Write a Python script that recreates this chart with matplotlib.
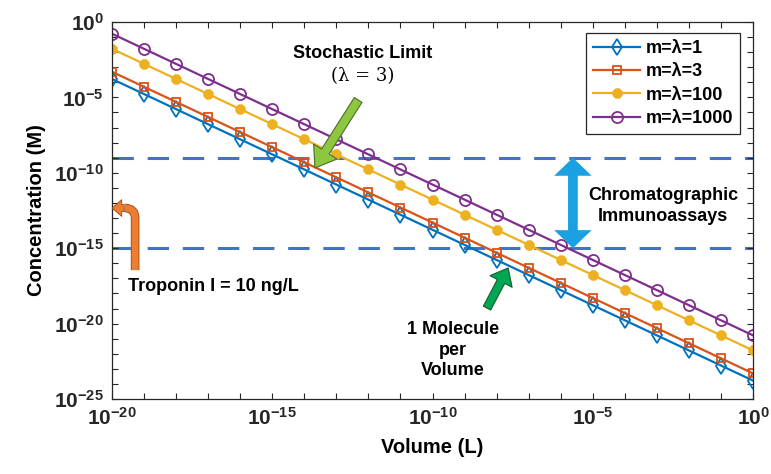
import numpy as np
import matplotlib
matplotlib.use("Agg")
import matplotlib.pyplot as plt
from matplotlib.path import Path
from matplotlib.patches import FancyArrowPatch
import matplotlib.patheffects as pe

plt.rcParams['font.family'] = ['Liberation Sans', 'DejaVu Sans']
plt.rcParams['font.weight'] = 'bold'
plt.rcParams['mathtext.fontset'] = 'custom'
plt.rcParams['mathtext.rm'] = 'Liberation Sans:bold'
plt.rcParams['mathtext.bf'] = 'Liberation Sans:bold'
plt.rcParams['mathtext.it'] = 'Liberation Sans:bold:italic'

# volume (L), one point per decade
volume = [1e-20, 1e-19, 1e-18, 1e-17, 1e-16, 1e-15, 1e-14, 1e-13, 1e-12, 1e-11,
          1e-10, 1e-9, 1e-8, 1e-7, 1e-6, 1e-5, 1e-4, 1e-3, 1e-2, 1e-1, 1e0]

# concentration (M)
conc_m1 = [1.66e-4, 1.66e-5, 1.66e-6, 1.66e-7, 1.66e-8, 1.66e-9, 1.66e-10,
           1.66e-11, 1.66e-12, 1.66e-13, 1.66e-14, 1.66e-15, 1.66e-16, 1.66e-17,
           1.66e-18, 1.66e-19, 1.66e-20, 1.66e-21, 1.66e-22, 1.66e-23, 1.66e-24]
conc_m3 = [4.98e-4, 4.98e-5, 4.98e-6, 4.98e-7, 4.98e-8, 4.98e-9, 4.98e-10,
           4.98e-11, 4.98e-12, 4.98e-13, 4.98e-14, 4.98e-15, 4.98e-16, 4.98e-17,
           4.98e-18, 4.98e-19, 4.98e-20, 4.98e-21, 4.98e-22, 4.98e-23, 4.98e-24]
conc_m100 = [1.66e-2, 1.66e-3, 1.66e-4, 1.66e-5, 1.66e-6, 1.66e-7, 1.66e-8,
             1.66e-9, 1.66e-10, 1.66e-11, 1.66e-12, 1.66e-13, 1.66e-14, 1.66e-15,
             1.66e-16, 1.66e-17, 1.66e-18, 1.66e-19, 1.66e-20, 1.66e-21, 1.66e-22]
conc_m1000 = [1.66e-1, 1.66e-2, 1.66e-3, 1.66e-4, 1.66e-5, 1.66e-6, 1.66e-7,
              1.66e-8, 1.66e-9, 1.66e-10, 1.66e-11, 1.66e-12, 1.66e-13, 1.66e-14,
              1.66e-15, 1.66e-16, 1.66e-17, 1.66e-18, 1.66e-19, 1.66e-20, 1.66e-21]

labels = ['m=λ=1', 'm=λ=3', 'm=λ=100', 'm=λ=1000']
limits = [1e-9, 1e-15]  # dashed detection limits
troponin = 4.6e-13

x_ticks = [1e-20, 1e-15, 1e-10, 1e-5, 1e0]
x_ticklabels = [r'$\mathbf{10^{-20}}$', r'$\mathbf{10^{-15}}$', r'$\mathbf{10^{-10}}$',
                r'$\mathbf{10^{-5}}$', r'$\mathbf{10^{0}}$']
y_ticks = [1e-25, 1e-20, 1e-15, 1e-10, 1e-5, 1e0]
y_ticklabels = [r'$\mathbf{10^{-25}}$', r'$\mathbf{10^{-20}}$', r'$\mathbf{10^{-15}}$',
                r'$\mathbf{10^{-10}}$', r'$\mathbf{10^{-5}}$', r'$\mathbf{10^{0}}$']

fig = plt.figure(figsize=(7.71, 4.74), dpi=100)
ax = fig.add_axes([0.1453, 0.1582, 0.8314, 0.7954])

ax.plot(volume, conc_m1, color='#0072BD', lw=1.6, marker='d', ms=8, mfc='none',
        mew=1.3, label=labels[0])
ax.plot(volume, conc_m3, color='#D95319', lw=1.6, marker='s', ms=6, mfc='none',
        mew=1.3, label=labels[1])
ax.plot(volume, conc_m100, color='#EDB120', lw=1.6, marker=(8, 2, 0), ms=7,
        mew=2.8, label=labels[2])
ax.plot(volume, conc_m1000, color='#7E2F8E', lw=1.6, marker='o', ms=8, mfc='none',
        mew=1.3, label=labels[3])

for lim in limits:
    ax.axhline(lim, color='#4472C4', lw=2.2, dashes=(7, 4.5), zorder=1)

ax.set_xscale('log')
ax.set_yscale('log')
ax.set_xlim(1e-20, 1e0)
ax.set_ylim(1e-25, 1e0)
ax.set_xticks(x_ticks)
ax.set_xticklabels(x_ticklabels)
ax.set_yticks(y_ticks)
ax.set_yticklabels(y_ticklabels)
ax.set_xticks(10.0 ** np.arange(-20, 1), minor=True)
ax.set_yticks(10.0 ** np.arange(-25, 1), minor=True)
ax.tick_params(which='both', direction='in', top=True, right=True,
               length=4, width=0.8, color='#262626', labelcolor='#262626',
               labelsize=15, pad=6)
ax.xaxis.set_minor_formatter(plt.NullFormatter())
ax.yaxis.set_minor_formatter(plt.NullFormatter())
for s in ax.spines.values():
    s.set_color('#262626')
    s.set_linewidth(0.9)

ax.set_xlabel('Volume (L)', fontsize=14.5, fontweight='bold', labelpad=6)
ax.set_ylabel('Concentration (M)', fontsize=14.5, fontweight='bold', labelpad=6)

leg = ax.legend(loc='upper right', fontsize=13, handlelength=2.6, numpoints=1,
                fancybox=False, edgecolor='#262626', framealpha=1,
                borderpad=0.4, labelspacing=0.35, handletextpad=0.3,
                borderaxespad=0, bbox_to_anchor=(0.98, 0.971))
leg.get_frame().set_linewidth(0.9)

# annotations
ax.text(10 ** -12.17, 10 ** -2.06, 'Stochastic Limit', ha='center', va='center',
        fontsize=13, fontweight='bold')
ax.text(10 ** -12.17, 10 ** -3.58, '(λ = 3)', ha='center', va='center',
        fontsize=13, fontweight='normal', family=['DejaVu Serif'])
ax.annotate('', xy=(10 ** -13.67, 10 ** -9.68), xytext=(10 ** -12.32, 10 ** -5.17),
            arrowprops=dict(arrowstyle='simple,head_length=14,head_width=20,tail_width=6.5',
                            mutation_scale=1, fc='#8DC63F', ec='#4F6B2E', lw=0.8,
                            shrinkA=0, shrinkB=0))

ax.text(10 ** -2.81, 10 ** -12.2, 'Chromatographic\nImmunoassays', ha='center',
        va='center', fontsize=13, fontweight='bold', linespacing=1.3)
mid = 10 ** -12.0
for end in limits:
    ax.annotate('', xy=(10 ** -5.62, end), xytext=(10 ** -5.62, mid),
                arrowprops=dict(arrowstyle='simple,head_length=13,head_width=27,tail_width=7',
                                mutation_scale=1, fc='#1BA1E2', ec='none',
                                shrinkA=0, shrinkB=0))

ax.text(10 ** -9.36, 10 ** -21.75, '1 Molecule\nper\nVolume', ha='center',
        va='center', fontsize=13, fontweight='bold', linespacing=1.3)
ax.annotate('', xy=(10 ** -7.64, 10 ** -16.31), xytext=(10 ** -8.3, 10 ** -18.97),
            arrowprops=dict(arrowstyle='simple,head_length=11,head_width=18,tail_width=6',
                            mutation_scale=1, fc='#00A651', ec='#1F5A35', lw=0.8,
                            shrinkA=0, shrinkB=0))

ax.text(10 ** -19.5, 10 ** -17.57, 'Troponin I = 10 ng/L', ha='left', va='center',
        fontsize=13, fontweight='bold')
bx = 10 ** -19.28
shaft = Path([(bx, 10 ** -16.45), (bx, 10 ** -13.0), (bx, troponin),
              (10 ** -19.6, troponin)],
             [Path.MOVETO, Path.LINETO, Path.CURVE3, Path.CURVE3])
ax.add_patch(FancyArrowPatch(path=shaft, arrowstyle='-', lw=5, color='#ED7D31',
                             capstyle='butt', zorder=5,
                             path_effects=[pe.Stroke(linewidth=6.2, foreground='#9C4A14'),
                                           pe.Normal()]))
ax.annotate('', xy=(1e-20, troponin), xytext=(10 ** -19.62, troponin),
            arrowprops=dict(arrowstyle='simple,head_length=7,head_width=12,tail_width=5',
                            mutation_scale=1, fc='#ED7D31', ec='#9C4A14', lw=0.6,
                            shrinkA=0, shrinkB=0), zorder=6)

fig.savefig('out.png', dpi=100, facecolor='white')
